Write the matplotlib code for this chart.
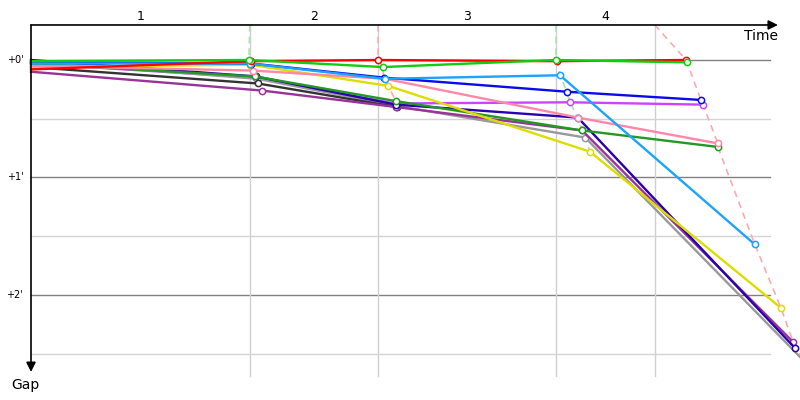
import matplotlib
matplotlib.use("Agg")
import matplotlib.pyplot as plt

# lap crossing times (min) and gaps to leader (min)
drivers = ["violet", "gray", "black", "purple", "darkblue", "darkgreen",
           "yellow", "pink", "blue", "lightblue", "red", "green"]
colors = {
    "red": "#ff0000", "green": "#11cc11", "lightblue": "#1aa3ff",
    "blue": "#0a0aee", "violet": "#cc44ff", "pink": "#ff88aa",
    "yellow": "#dddd00", "darkgreen": "#229922", "darkblue": "#2a00b0",
    "purple": "#993399", "gray": "#999999", "black": "#333333",
}
times = {
    "red":       [0, 5.06, 7.98, 12.09, 15.06],
    "green":     [0, 5.01, 8.09, 12.07, 15.08],
    "lightblue": [0, 5.03, 8.14, 12.16, 16.64],
    "blue":      [0, 5.06, 8.11, 12.32, 15.40],
    "violet":    [0, 5.17, 8.37, 12.39, 15.45],
    "pink":      [0, 5.10, 8.14, 12.57, 15.79],
    "yellow":    [0, 5.03, 8.21, 12.85, 17.24],
    "darkgreen": [0, 5.15, 8.39, 12.67, 15.79],
    "darkblue":  [0, 5.17, 8.39, 12.57, 17.56],
    "purple":    [0, 5.31, 8.39, 12.67, 17.52],
    "gray":      [0, 5.20, 8.39, 12.74, 17.95],
    "black":     [0, 5.22, 8.41],
}
gaps = {
    "red":       [0.08, 0.01, 0.00, 0.01, 0.00],
    "green":     [0.01, 0.00, 0.06, 0.00, 0.02],
    "lightblue": [0.03, 0.03, 0.16, 0.13, 1.57],
    "blue":      [0.02, 0.03, 0.15, 0.27, 0.34],
    "violet":    [0.03, 0.15, 0.37, 0.36, 0.38],
    "pink":      [0.05, 0.09, 0.16, 0.49, 0.71],
    "yellow":    [0.06, 0.04, 0.22, 0.78, 2.11],
    "darkgreen": [0.03, 0.14, 0.35, 0.60, 0.74],
    "darkblue":  [0.00, 0.14, 0.38, 0.49, 2.45],
    "purple":    [0.10, 0.26, 0.40, 0.60, 2.40],
    "gray":      [0.01, 0.16, 0.39, 0.66, 2.63],
    "black":     [0.06, 0.20, 0.40],
}
lap_lines = [5.03, 7.98, 12.07, 14.34]
lap_labels = ["1", "2", "3", "4"]
lap_colors = ["#a8e4a8", "#ffaaaa", "#a8e4a8", "#ffaaaa"]
gap_ticks = [0, 1, 2]
gap_minor = [0.5, 1.5, 2.5]

top = -0.298      # time axis position (gap units)
grid_end = 16.99
bottom = 2.69

fig = plt.figure(figsize=(8, 4), dpi=100)
ax = fig.add_axes([0, 0, 1, 1])
ax.set_xlim(-0.7126, 17.678)
ax.set_ylim(2.8936, -0.5106)
ax.axis("off")

# grid
for g in gap_minor:
    ax.plot([0, grid_end], [g, g], color="#d4d4d4", lw=1, zorder=1)
for g in gap_ticks:
    ax.plot([0, grid_end], [g, g], color="#808080", lw=1, zorder=1)
    ax.text(-0.18, g, "+%d'" % g, ha="right", va="center", fontsize=7)
for t in lap_lines:
    ax.plot([t, t], [top, bottom], color="#d0d0d0", lw=1, zorder=1)

# lap labels between lap lines
edges = [0] + lap_lines
for i, lab in enumerate(lap_labels):
    ax.text((edges[i] + edges[i + 1]) / 2, -0.366, lab, ha="center",
            va="center", fontsize=9)

# line-crossing curves for each lap
for k in range(4):
    pts = [(times[d][k + 1], gaps[d][k + 1]) for d in drivers
           if len(times[d]) > k + 1]
    pts.sort(key=lambda p: p[1])
    xs = [lap_lines[k]] + [p[0] for p in pts]
    ys = [top] + [p[1] for p in pts]
    ax.plot(xs, ys, color=lap_colors[k], lw=1.2, ls=(0, (4, 3)), zorder=2)

# drivers
for d in drivers:
    ax.plot(times[d], gaps[d], color=colors[d], lw=1.7, zorder=3,
            marker="o", markersize=4.5, markerfacecolor="white",
            markeredgewidth=1.1, markevery=slice(1, None))

# axes with arrows
arrow = dict(arrowstyle="-|>", color="black", lw=1.2, mutation_scale=14,
             shrinkA=0, shrinkB=0)
ax.annotate("", xy=(17.17, top), xytext=(0, top), arrowprops=arrow, zorder=5)
ax.annotate("", xy=(0, 2.655), xytext=(0, top), arrowprops=arrow, zorder=5)
ax.text(17.17, -0.2, "Time", ha="right", va="center", fontsize=10)
ax.text(-0.45, 2.77, "Gap", ha="left", va="center", fontsize=10)

fig.savefig("out.png", dpi=100)
